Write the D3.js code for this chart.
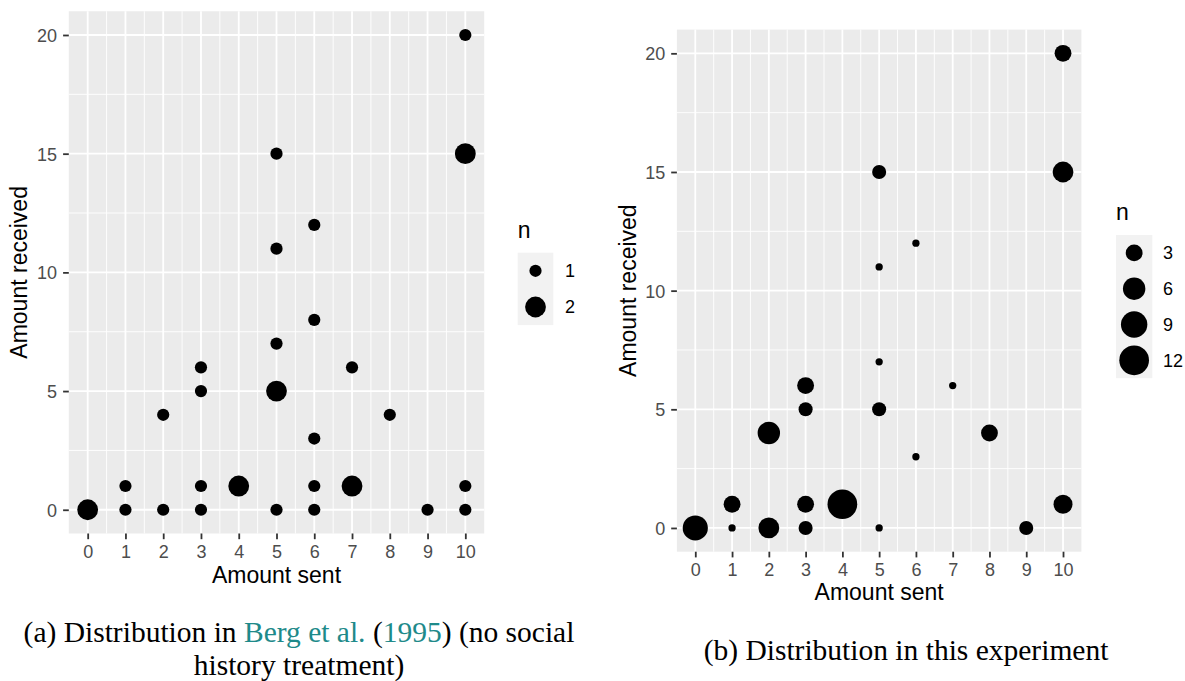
<!DOCTYPE html>
<html><head><meta charset="utf-8">
<script src="https://cdn.jsdelivr.net/npm/d3@7"></script>
<style>body{margin:0;background:#fff}</style>
</head><body>
<svg id="chart" width="1185" height="681"></svg>
<script>
// ---- data ----
const sentTicks = [0,1,2,3,4,5,6,7,8,9,10];
const receivedTicks = [0,5,10,15,20];

// (a) Berg et al. (1995), no social history
const bergSent     = [0,1,1,2,2,3,3,3,3,4,5,5,5,5,5,6,6,6,6,6,7,7,8,9,10,10,10,10];
const bergReceived = [0,0,1,0,4,0,1,5,6,1,0,5,7,11,15,0,1,3,8,12,1,6,4,0,0,1,15,20];
const bergN        = [2,1,1,1,1,1,1,1,1,2,1,2,1,1,1,1,1,1,1,1,2,1,1,1,1,1,2,1];
const bergLegend   = [1,2];

// (b) this experiment
const expSent     = [0,1,1,2,2,3,3,3,3,4,5,5,5,5,5,6,6,7,8,9,10,10,10];
const expReceived = [0,0,1,0,4,0,1,5,6,1,0,5,7,11,15,3,12,6,4,0,1,15,20];
const expN        = [8,1,3,5,6,2,3,2,3,12,1,2,1,1,2,1,1,1,3,2,4,5,3];
const expLegend   = [3,6,9,12];

const svg = d3.select("#chart");
svg.append("rect").attr("width",1185).attr("height",681).attr("fill","#fff");

const SANS = "'Liberation Sans', Arial, sans-serif";
const SERIF = "'Liberation Serif', 'Times New Roman', serif";

function panel(cfg){
  const g = svg.append("g");
  const x = d3.scaleLinear().domain([-0.5,10.5]).range(cfg.xr);
  const y = d3.scaleLinear().domain([-1,21]).range(cfg.yr);
  const t = d3.scaleLinear().domain(cfg.nDomain).range([0,1]);
  const rs = d3.scaleSqrt().domain([0,1]).range(cfg.rRange);
  const r = n => rs(t(n));

  g.append("rect").attr("x",cfg.xr[0]).attr("y",cfg.yr[1])
    .attr("width",cfg.xr[1]-cfg.xr[0]).attr("height",cfg.yr[0]-cfg.yr[1])
    .attr("fill","#EBEBEB");
  const xMinor = d3.range(0,10).map(v=>v+0.5);
  const yMinor = [2.5,7.5,12.5,17.5];
  g.selectAll(null).data(xMinor).join("line")
    .attr("x1",d=>x(d)).attr("x2",d=>x(d)).attr("y1",cfg.yr[0]).attr("y2",cfg.yr[1])
    .attr("stroke","#fff").attr("stroke-width",0.9);
  g.selectAll(null).data(yMinor).join("line")
    .attr("y1",d=>y(d)).attr("y2",d=>y(d)).attr("x1",cfg.xr[0]).attr("x2",cfg.xr[1])
    .attr("stroke","#fff").attr("stroke-width",0.9);
  g.selectAll(null).data(sentTicks).join("line")
    .attr("x1",d=>x(d)).attr("x2",d=>x(d)).attr("y1",cfg.yr[0]).attr("y2",cfg.yr[1])
    .attr("stroke","#fff").attr("stroke-width",1.8);
  g.selectAll(null).data(receivedTicks).join("line")
    .attr("y1",d=>y(d)).attr("y2",d=>y(d)).attr("x1",cfg.xr[0]).attr("x2",cfg.xr[1])
    .attr("stroke","#fff").attr("stroke-width",1.8);

  const xAxis = d3.axisBottom(x).tickValues(sentTicks).tickSize(5.7).tickPadding(3);
  const ax = g.append("g").attr("transform",`translate(0,${cfg.yr[0]})`).call(xAxis);
  const yAxis = d3.axisLeft(y).tickValues(receivedTicks).tickSize(5.7).tickPadding(cfg.yPad);
  const ay = g.append("g").attr("transform",`translate(${cfg.xr[0]},0)`).call(yAxis);
  [ax,ay].forEach(a=>{
    a.select(".domain").remove();
    a.selectAll(".tick line").attr("stroke","#333").attr("stroke-width",1.8);
    a.selectAll(".tick text").attr("fill","#4D4D4D").attr("font-family",SANS).attr("font-size",cfg.tickFs);
  });
  ax.selectAll(".tick text").attr("dy",null).attr("y",cfg.xLabBase-cfg.yr[0]);
  ay.selectAll(".tick text").attr("dy","0.36em");

  g.append("text").attr("x",(cfg.xr[0]+cfg.xr[1])/2).attr("y",cfg.xTitleBase)
    .attr("text-anchor","middle").attr("font-family",SANS).attr("font-size",cfg.titleFs)
    .attr("fill","#000").text("Amount sent");
  g.append("text").attr("transform",`translate(${cfg.yTitleX},${(cfg.yr[0]+cfg.yr[1])/2}) rotate(-90)`)
    .attr("text-anchor","middle").attr("font-family",SANS).attr("font-size",cfg.titleFs)
    .attr("fill","#000").text("Amount received");

  const pts = cfg.sent.map((s,i)=>({s, rcv:cfg.received[i], n:cfg.n[i]}));
  g.selectAll(null).data(pts).join("circle")
    .attr("cx",d=>x(d.s)).attr("cy",d=>y(d.rcv)).attr("r",d=>r(d.n)).attr("fill","#000");

  const L = cfg.legend;
  g.append("text").attr("x",L.x).attr("y",L.titleBase).attr("font-family",SANS)
    .attr("font-size",cfg.titleFs).attr("fill","#000").text("n");
  g.append("rect").attr("x",L.x).attr("y",L.y).attr("width",L.w).attr("height",L.keyH*L.values.length)
    .attr("fill","#F2F2F2");
  const keys = g.selectAll(null).data(L.values).join("g")
    .attr("transform",(d,i)=>`translate(${L.x+L.w/2},${L.y+L.keyH*(i+0.5)})`);
  keys.append("circle").attr("r",d=>r(d)).attr("fill","#000");
  keys.append("text").attr("x",L.labX-(L.x+L.w/2)).attr("dy","0.36em").attr("font-family",SANS)
    .attr("font-size",cfg.tickFs).attr("fill","#000").text(d=>d);
}

panel({
  xr:[68.8,484.2], yr:[533.5,11.25], yPad:6,
  xLabBase:558.3, xTitleBase:583, yTitleX:27,
  tickFs:18, titleFs:23,
  sent:bergSent, received:bergReceived, n:bergN,
  nDomain:[1,2], rRange:[6.1,10.4],
  legend:{x:517.7, y:252.7, w:35.6, keyH:36.2, titleBase:238.3, labX:565, values:bergLegend}
});
panel({
  xr:[676.9,1081.4], yr:[551.7,29.6], yPad:6,
  xLabBase:576, xTitleBase:600, yTitleX:636,
  tickFs:18, titleFs:23,
  sent:expSent, received:expReceived, n:expN,
  nDomain:[1,12], rRange:[3.65,14.85],
  legend:{x:1116, y:235, w:36.3, keyH:35.8, titleBase:220, labX:1163, values:expLegend}
});

const TEAL = "#1E8A8A";
const CAP = 29.5;
const capA1 = svg.append("text").attr("x",299).attr("y",642).attr("text-anchor","middle")
  .attr("font-family",SERIF).attr("font-size",CAP).attr("fill","#000");
[["(a) Distribution in ","#000"],["Berg et al.",TEAL],[" (","#000"],["1995",TEAL],[") (no social","#000"]]
  .forEach(([s,c])=>capA1.append("tspan").attr("fill",c).text(s));
svg.append("text").attr("x",299).attr("y",675).attr("text-anchor","middle")
  .attr("font-family",SERIF).attr("font-size",CAP).attr("fill","#000").text("history treatment)");
svg.append("text").attr("x",906).attr("y",660).attr("text-anchor","middle")
  .attr("font-family",SERIF).attr("font-size",CAP).attr("fill","#000").text("(b) Distribution in this experiment");
</script>
</body></html>
